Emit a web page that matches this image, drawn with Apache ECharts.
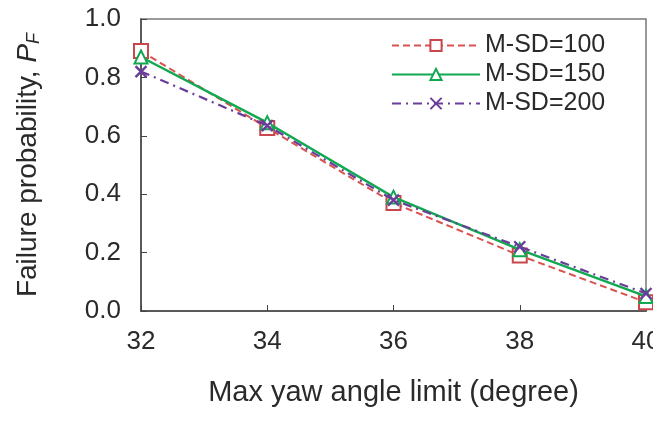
<!DOCTYPE html>
<html>
<head>
<meta charset="utf-8">
<script src="https://cdn.jsdelivr.net/npm/echarts@6/dist/echarts.min.js"></script>
<style>
  html, body { margin: 0; padding: 0; background: #fff; overflow: hidden; }
  #chart { width: 653px; height: 423px; }
</style>
</head>
<body>
<div id="chart"></div>
<script>
// Max yaw angle limit (degree) on the x axis
const yawLimits = [32, 34, 36, 38, 40];
const seriesNames = ['M-SD=100', 'M-SD=150', 'M-SD=200'];
// Failure probability for each M-SD value
const pfSD100 = [0.89, 0.627, 0.37, 0.19, 0.03];
const pfSD150 = [0.87, 0.645, 0.39, 0.21, 0.05];
const pfSD200 = [0.82, 0.635, 0.38, 0.22, 0.06];
const yTicks = ['0.0', '0.2', '0.4', '0.6', '0.8', '1.0'];

const FONT = '"Liberation Sans", Arial, sans-serif';
const TXT = '#2a2a2a';
const crossPath = 'path://M0,0L10,10M10,0L0,10';

const toPairs = vals => yawLimits.map((x, i) => [x, vals[i]]);

const chart = echarts.init(document.getElementById('chart'), null, { renderer: 'canvas' });
chart.setOption({
  animation: false,
  backgroundColor: '#ffffff',
  grid: {
    left: 141, top: 19, width: 505, height: 292,
    outerBoundsMode: 'none', containLabel: false,
    show: true, borderColor: '#7a7a7a', borderWidth: 1.5, backgroundColor: 'transparent'
  },
  legend: {
    left: 386, top: 28,
    orient: 'vertical',
    itemGap: 4,
    itemWidth: 88, itemHeight: 14,
    textStyle: { fontFamily: FONT, fontSize: 25, color: TXT, padding: [0, 0, 0, 0] },
    data: seriesNames
  },
  xAxis: {
    type: 'value', min: 32, max: 40, interval: 2,
    name: 'Max yaw angle limit (degree)',
    nameLocation: 'middle', nameGap: 67,
    nameTextStyle: { fontFamily: FONT, fontSize: 29, color: TXT },
    axisLine: { lineStyle: { color: '#444', width: 1.5 } },
    axisTick: { inside: true, length: 6, lineStyle: { color: '#444' } },
    axisLabel: { fontFamily: FONT, fontSize: 26, color: TXT, margin: 18, hideOverlap: false },
    splitLine: { show: false }
  },
  yAxis: {
    type: 'value', min: 0, max: 1, interval: 0.2,
    name: 'Failure probability, {i|P}{s|F}',
    nameLocation: 'middle', nameGap: 98, nameRotate: 90,
    nameTextStyle: {
      fontFamily: FONT, fontSize: 28, color: TXT,
      rich: {
        i: { fontFamily: FONT, fontSize: 28, fontStyle: 'italic', color: TXT },
        s: { fontFamily: FONT, fontSize: 18, fontStyle: 'italic', color: TXT, verticalAlign: 'bottom', padding: [12, 0, 0, 0] }
      }
    },
    axisLine: { lineStyle: { color: '#444', width: 1.5 } },
    axisTick: { inside: true, length: 6, lineStyle: { color: '#444' } },
    axisLabel: {
      fontFamily: FONT, fontSize: 26, color: TXT, margin: 20,
      formatter: v => yTicks[Math.round(v / 0.2)]
    },
    splitLine: { show: false }
  },
  series: [
    {
      name: seriesNames[0], type: 'line', data: toPairs(pfSD100),
      symbol: 'emptyRect', symbolSize: 14,
      lineStyle: { color: '#d9534f', width: 2, type: [7, 4] },
      itemStyle: { color: '#c9474a', borderWidth: 1.6 },
      z: 2
    },
    {
      name: seriesNames[1], type: 'line', data: toPairs(pfSD150),
      symbol: 'emptyTriangle', symbolSize: 13,
      lineStyle: { color: '#10a850', width: 2.4, type: 'solid' },
      itemStyle: { color: '#10a850', borderWidth: 1.6 },
      z: 3
    },
    {
      name: seriesNames[2], type: 'line', data: toPairs(pfSD200),
      symbol: crossPath, symbolSize: 11,
      lineStyle: { color: '#6a3d9a', width: 2.2, type: [9, 5, 2, 5] },
      itemStyle: { color: '#6a3d9a', borderColor: '#6a3d9a', borderWidth: 2.4 },
      z: 4
    }
  ]
});
</script>
</body>
</html>
